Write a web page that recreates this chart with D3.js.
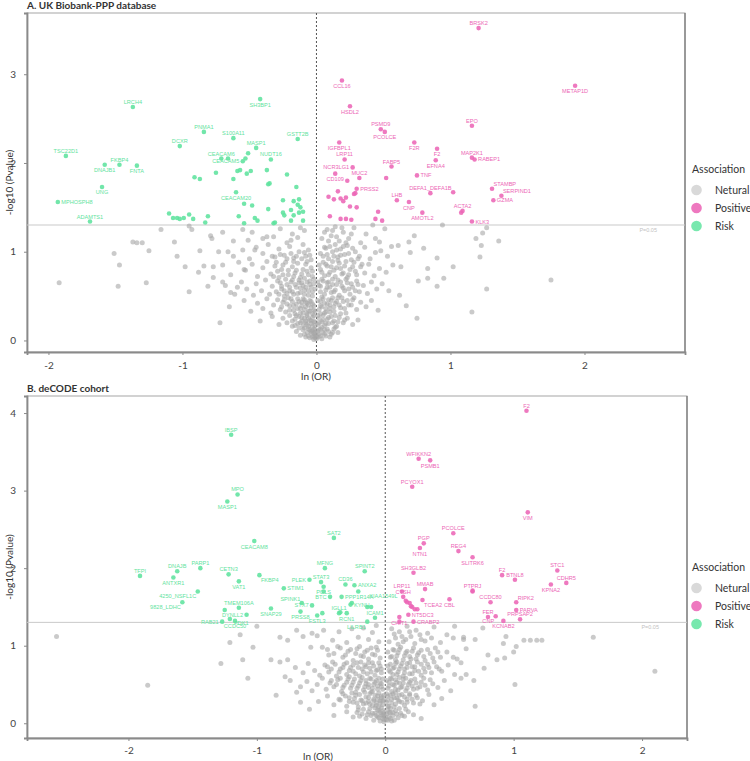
<!DOCTYPE html>
<html>
<head>
<meta charset="utf-8">
<script src="https://cdn.jsdelivr.net/npm/d3@7"></script>
<style>
  body { margin: 0; background: #fff; }
  svg { display: block; font-family: Lato, "Open Sans", sans-serif; }
</style>
</head>
<body>
<div id="chart"></div>
<script>
// volcano plots: ln(OR) vs -log10(P), two cohorts

const lnORTicks = [-2, -1, 0, 1, 2];
const pTicksA = [0, 1, 2, 3];
const pTicksB = [0, 1, 2, 3, 4];
const pThreshold = -Math.log10(0.05);
const legendItems = ['Netural', 'Positive', 'Risk'];

// ---- panel A: UK Biobank-PPP ----
const riskLabelledA = [
  ['LRCH4', -1.37, 2.63], ['SH3BP1', -0.42, 2.72], ['PNMA1', -0.84, 2.35], ['S100A11', -0.62, 2.28],
  ['DCXR', -1.02, 2.19], ['GSTT2B', -0.14, 2.27], ['MASP1', -0.45, 2.17], ['TSC22D1', -1.87, 2.08],
  ['CEACAM6', -0.71, 2.05], ['CEACAM5', -0.55, 2.02], ['NUDT16', -0.34, 2.04], ['FKBP4', -1.47, 1.98],
  ['DNAJB1', -1.58, 1.98], ['FNTA', -1.34, 1.97], ['UNG', -1.60, 1.73], ['MPHOSPH8', -1.93, 1.56],
  ['ADAMTS1', -1.69, 1.34], ['CEACAM20', -0.60, 1.67]
];
const riskOtherA = [
  [-0.66, 2.05], [-0.51, 2.11], [-0.53, 2.05], [-0.91, 1.84], [-0.87, 1.82], [-0.75, 1.89], [-0.62, 1.82],
  [-0.59, 1.91], [-0.57, 1.92], [-0.52, 1.88], [-0.49, 1.91], [-0.37, 1.92], [-0.36, 1.76], [-0.35, 1.77],
  [-0.22, 1.87], [-0.15, 1.73], [-0.54, 1.54], [-0.48, 1.52], [-0.36, 1.48], [-0.25, 1.58], [-0.17, 1.57],
  [-0.13, 1.59], [-0.14, 1.53], [-0.25, 1.44], [-0.24, 1.41], [-0.19, 1.47], [-0.17, 1.41], [-0.13, 1.44],
  [-0.10, 1.45], [-0.10, 1.35], [-0.19, 1.35], [-0.32, 1.32], [-0.31, 1.33], [-0.46, 1.38], [-0.44, 1.35],
  [-0.54, 1.32], [-0.58, 1.40], [-0.83, 1.33], [-0.81, 1.40], [-0.95, 1.42], [-0.92, 1.37], [-1.10, 1.43],
  [-1.07, 1.38], [-1.04, 1.38], [-1.02, 1.37], [-0.99, 1.38], [-0.12, 1.50]
];
const posLabelledA = [
  ['BRSK2', 1.21, 3.52], ['CCL16', 0.19, 2.93], ['METAP1D', 1.93, 2.87], ['HSDL2', 0.25, 2.64],
  ['EPO', 1.16, 2.42], ['PSMD9', 0.48, 2.38], ['PCOLCE', 0.51, 2.35], ['F2R', 0.73, 2.23],
  ['F2', 0.90, 2.16], ['IGFBPL1', 0.17, 2.23], ['LRP11', 0.21, 2.04], ['MAP2K1', 1.16, 2.06],
  ['RABEP1', 1.18, 2.04], ['EFNA4', 0.89, 2.03], ['FABP5', 0.56, 1.96], ['NCR3LG1', 0.27, 1.95],
  ['MUC2', 0.32, 1.83], ['TNF', 0.75, 1.86], ['CD109', 0.14, 1.88], ['PRSS2', 0.30, 1.71],
  ['DEFA1_DEFA1B', 0.85, 1.66], ['STAMBP', 1.31, 1.71], ['SERPIND1', 1.38, 1.63], ['GZMA', 1.32, 1.58],
  ['LHB', 0.60, 1.58], ['CNP', 0.69, 1.56], ['ACTA2', 1.09, 1.46], ['AMOTL2', 0.79, 1.44], ['KLK3', 1.16, 1.34]
];
const posOtherA = [
  [0.23, 1.80], [0.52, 1.83], [0.29, 1.66], [0.28, 1.65], [1.02, 1.67], [1.08, 1.44], [0.09, 1.62],
  [0.13, 1.59], [0.16, 1.68], [0.18, 1.60], [0.20, 1.57], [0.22, 1.61], [0.25, 1.51], [0.30, 1.50],
  [0.10, 1.40], [0.18, 1.37], [0.22, 1.37], [0.26, 1.36], [0.46, 1.45], [0.44, 1.37], [0.49, 1.35]
];
const neutralA = [
  // sparse outer points
  [-1.92, 0.65], [-1.48, 0.61], [-1.27, 0.65], [-1.51, 0.98], [-1.47, 0.85], [-1.37, 1.11], [-1.34, 1.10],
  [-1.30, 1.10], [-1.25, 1.01], [-1.16, 1.25], [-1.06, 1.11], [-1.04, 0.95], [-0.98, 0.83], [-0.95, 1.29],
  [-0.93, 1.25], [-0.87, 1.01], [-0.84, 0.84], [-0.79, 1.18], [-0.78, 1.15], [-0.77, 0.83], [-0.73, 1.00],
  [-0.66, 1.00], [-0.72, 0.20], [-0.81, 0.61], [-0.77, 0.71], [-0.70, 0.66], [-0.64, 0.54], [-0.59, 0.60],
  [-0.54, 0.80], [-0.51, 1.13], [-0.46, 1.02], [-0.37, 1.17], [-0.32, 1.17], [-0.19, 1.13],
  // left cloud
  [-0.55, 1.25], [-0.48, 1.22], [-0.40, 1.15], [-0.27, 1.26], [-0.22, 1.10], [-0.18, 1.20], [-0.14, 1.16],
  [-0.12, 1.27], [-0.09, 1.24], [-0.62, 1.12], [-0.70, 1.22],
  [-0.62, 0.95], [-0.55, 1.02], [-0.50, 0.92], [-0.45, 1.05], [-0.40, 0.98], [-0.36, 1.08], [-0.31, 0.94],
  [-0.28, 1.03], [-0.24, 0.96], [-0.20, 1.06], [-0.17, 0.93], [-0.13, 1.00], [-0.10, 1.08], [-0.08, 0.95],
  [-0.06, 1.02], [-0.04, 0.91],
  [-0.88, 0.77], [-0.70, 0.85], [-0.64, 0.74], [-0.58, 0.88], [-0.53, 0.79], [-0.48, 0.86], [-0.44, 0.72],
  [-0.40, 0.82], [-0.37, 0.89], [-0.34, 0.75], [-0.31, 0.84], [-0.28, 0.71], [-0.26, 0.80], [-0.23, 0.88],
  [-0.21, 0.74], [-0.18, 0.83], [-0.16, 0.76], [-0.14, 0.87], [-0.12, 0.71], [-0.10, 0.80], [-0.08, 0.86],
  [-0.06, 0.74], [-0.04, 0.82], [-0.03, 0.78],
  [-0.95, 0.55], [-0.68, 0.62], [-0.61, 0.52], [-0.56, 0.66], [-0.52, 0.58], [-0.47, 0.51], [-0.45, 0.64],
  [-0.41, 0.56], [-0.38, 0.68], [-0.35, 0.52], [-0.33, 0.61], [-0.30, 0.55], [-0.29, 0.67], [-0.26, 0.58],
  [-0.24, 0.50], [-0.22, 0.63], [-0.20, 0.56], [-0.18, 0.68], [-0.17, 0.52], [-0.15, 0.60], [-0.13, 0.65],
  [-0.12, 0.54], [-0.10, 0.62], [-0.09, 0.57], [-0.07, 0.66], [-0.06, 0.51], [-0.04, 0.60], [-0.03, 0.55],
  [-0.02, 0.64],
  [-0.65, 0.38], [-0.54, 0.45], [-0.49, 0.33], [-0.44, 0.42], [-0.40, 0.36], [-0.37, 0.47], [-0.34, 0.31],
  [-0.32, 0.40], [-0.29, 0.46], [-0.27, 0.35], [-0.25, 0.43], [-0.23, 0.32], [-0.21, 0.48], [-0.20, 0.39],
  [-0.18, 0.44], [-0.17, 0.34], [-0.15, 0.41], [-0.14, 0.47], [-0.12, 0.36], [-0.11, 0.43], [-0.10, 0.31],
  [-0.09, 0.46], [-0.08, 0.38], [-0.07, 0.42], [-0.06, 0.33], [-0.05, 0.45], [-0.04, 0.37], [-0.03, 0.41],
  [-0.02, 0.34],
  [-0.42, 0.22], [-0.33, 0.27], [-0.28, 0.18], [-0.25, 0.25], [-0.22, 0.20], [-0.20, 0.28], [-0.18, 0.16],
  [-0.16, 0.24], [-0.14, 0.19], [-0.13, 0.27], [-0.11, 0.22], [-0.10, 0.17], [-0.09, 0.25], [-0.08, 0.20],
  [-0.07, 0.28], [-0.06, 0.16], [-0.05, 0.23], [-0.04, 0.19], [-0.03, 0.26], [-0.02, 0.21], [-0.01, 0.17],
  [-0.15, 0.10], [-0.12, 0.06], [-0.10, 0.12], [-0.08, 0.04], [-0.07, 0.09], [-0.06, 0.13], [-0.05, 0.03],
  [-0.04, 0.08], [-0.03, 0.11], [-0.02, 0.05], [-0.02, 0.01], [-0.01, 0.07], [-0.01, 0.12], [0.00, 0.02],
  // right cloud
  [1.75, 0.68], [1.27, 0.58], [1.16, 0.32], [0.75, 0.25], [1.36, 1.12], [1.24, 1.21], [1.27, 1.27],
  [1.19, 1.15], [1.23, 1.07], [1.22, 0.94], [1.02, 0.83], [0.94, 1.30], [0.90, 0.93], [0.95, 0.70],
  [0.90, 0.61], [0.83, 0.81], [0.83, 0.70], [0.80, 1.04], [0.73, 1.18], [0.69, 1.11], [0.61, 1.07],
  [0.56, 1.06], [0.51, 1.26], [0.42, 1.30], [0.44, 1.15], [0.47, 1.11], [0.48, 1.01], [0.70, 0.99],
  [0.63, 0.83], [0.76, 0.67], [0.67, 0.39], [0.62, 0.51],
  [0.08, 1.25], [0.11, 1.18], [0.14, 1.28], [0.17, 1.12], [0.20, 1.22], [0.24, 1.15], [0.28, 1.27],
  [0.33, 1.10], [0.37, 1.20],
  [0.05, 0.95], [0.07, 1.04], [0.09, 0.92], [0.12, 1.00], [0.14, 1.08], [0.16, 0.94], [0.18, 1.03],
  [0.21, 0.97], [0.23, 1.07], [0.26, 0.91], [0.29, 1.00], [0.32, 0.95], [0.36, 1.05], [0.40, 0.92],
  [0.44, 0.99], [0.53, 0.95],
  [0.03, 0.80], [0.05, 0.88], [0.06, 0.73], [0.08, 0.84], [0.10, 0.77], [0.12, 0.89], [0.14, 0.72],
  [0.15, 0.82], [0.17, 0.87], [0.19, 0.75], [0.21, 0.84], [0.23, 0.71], [0.25, 0.80], [0.28, 0.88],
  [0.30, 0.74], [0.33, 0.83], [0.36, 0.76], [0.39, 0.86], [0.43, 0.73], [0.47, 0.81], [0.52, 0.77],
  [0.57, 0.85],
  [0.02, 0.62], [0.03, 0.55], [0.05, 0.67], [0.06, 0.52], [0.08, 0.60], [0.09, 0.66], [0.11, 0.54],
  [0.12, 0.63], [0.14, 0.57], [0.16, 0.68], [0.17, 0.51], [0.19, 0.61], [0.21, 0.56], [0.23, 0.65],
  [0.25, 0.52], [0.27, 0.60], [0.30, 0.67], [0.32, 0.55], [0.35, 0.62], [0.38, 0.53], [0.41, 0.66],
  [0.45, 0.58], [0.49, 0.64], [0.54, 0.56],
  [0.02, 0.35], [0.03, 0.44], [0.04, 0.38], [0.05, 0.47], [0.07, 0.32], [0.08, 0.41], [0.10, 0.36],
  [0.11, 0.45], [0.13, 0.33], [0.14, 0.42], [0.16, 0.48], [0.18, 0.37], [0.20, 0.44], [0.22, 0.31],
  [0.24, 0.40], [0.27, 0.46], [0.30, 0.35], [0.33, 0.43], [0.37, 0.38], [0.41, 0.45], [0.46, 0.34],
  [0.01, 0.18], [0.02, 0.25], [0.04, 0.21], [0.05, 0.28], [0.06, 0.17], [0.08, 0.24], [0.09, 0.19],
  [0.11, 0.27], [0.13, 0.22], [0.15, 0.16], [0.17, 0.26], [0.20, 0.20], [0.23, 0.25], [0.27, 0.18],
  [0.31, 0.23],
  [0.01, 0.04], [0.01, 0.10], [0.02, 0.07], [0.03, 0.13], [0.04, 0.02], [0.05, 0.09], [0.06, 0.12],
  [0.07, 0.05], [0.09, 0.10], [0.11, 0.07], [0.13, 0.13], [0.16, 0.09]
];
// dense core around the origin
const neutralCoreA = [
  [-0.33, 0.95], [-0.30, 0.88], [-0.27, 0.97], [-0.25, 0.85], [-0.22, 0.92], [-0.19, 0.98], [-0.17, 0.89],
  [-0.15, 0.95], [-0.11, 0.92], [-0.09, 0.99], [-0.07, 0.89], [-0.05, 0.96],
  [-0.32, 0.72], [-0.29, 0.78], [-0.27, 0.65], [-0.25, 0.74], [-0.23, 0.69], [-0.21, 0.79], [-0.19, 0.66],
  [-0.17, 0.72], [-0.15, 0.79], [-0.13, 0.68], [-0.11, 0.75], [-0.09, 0.70], [-0.07, 0.78], [-0.05, 0.67],
  [-0.03, 0.72], [-0.02, 0.69],
  [-0.28, 0.52], [-0.26, 0.61], [-0.24, 0.56], [-0.22, 0.53], [-0.20, 0.60], [-0.18, 0.55], [-0.16, 0.63],
  [-0.14, 0.53], [-0.12, 0.59], [-0.11, 0.65], [-0.09, 0.52], [-0.08, 0.60], [-0.06, 0.56], [-0.05, 0.63],
  [-0.03, 0.50], [-0.01, 0.58],
  [-0.26, 0.38], [-0.24, 0.46], [-0.22, 0.41], [-0.20, 0.34], [-0.19, 0.47], [-0.17, 0.39], [-0.16, 0.30],
  [-0.14, 0.36], [-0.13, 0.44], [-0.12, 0.31], [-0.11, 0.39], [-0.10, 0.47], [-0.09, 0.35], [-0.08, 0.43],
  [-0.07, 0.30], [-0.06, 0.40], [-0.05, 0.33], [-0.04, 0.44], [-0.03, 0.30], [-0.02, 0.39], [-0.01, 0.33],
  [-0.18, 0.22], [-0.16, 0.17], [-0.15, 0.28], [-0.13, 0.14], [-0.12, 0.20], [-0.11, 0.26], [-0.09, 0.14],
  [-0.08, 0.22], [-0.07, 0.18], [-0.06, 0.25], [-0.05, 0.12], [-0.04, 0.22], [-0.03, 0.16], [-0.02, 0.28],
  [-0.02, 0.13], [-0.01, 0.21], [-0.01, 0.09],
  [-0.09, 0.07], [-0.06, 0.05], [-0.04, 0.10], [-0.03, 0.04], [-0.02, 0.08], [-0.01, 0.03], [0.00, 0.05],
  [0.04, 1.15], [0.06, 1.22], [0.09, 1.12], [0.12, 1.24], [0.15, 1.17], [0.19, 1.27], [0.22, 1.10],
  [0.26, 1.20],
  [0.03, 0.98], [0.06, 1.05], [0.08, 0.97], [0.10, 1.06], [0.13, 0.95], [0.15, 1.02], [0.18, 0.96],
  [0.20, 1.06], [0.24, 0.98], [0.27, 1.04], [0.31, 0.92],
  [0.02, 0.85], [0.04, 0.77], [0.07, 0.86], [0.09, 0.74], [0.11, 0.83], [0.13, 0.79], [0.16, 0.90],
  [0.18, 0.81], [0.20, 0.76], [0.22, 0.89], [0.24, 0.74], [0.27, 0.83], [0.29, 0.78], [0.34, 0.86],
  [0.01, 0.66], [0.03, 0.61], [0.04, 0.69], [0.07, 0.57], [0.08, 0.65], [0.10, 0.60], [0.12, 0.69],
  [0.13, 0.55], [0.15, 0.63], [0.18, 0.66], [0.20, 0.59], [0.22, 0.69], [0.24, 0.58], [0.26, 0.64],
  [0.29, 0.56], [0.31, 0.63],
  [0.01, 0.45], [0.03, 0.39], [0.04, 0.49], [0.06, 0.42], [0.07, 0.36], [0.09, 0.46], [0.10, 0.40],
  [0.12, 0.48], [0.13, 0.38], [0.15, 0.44], [0.17, 0.40], [0.19, 0.48], [0.21, 0.36], [0.23, 0.45],
  [0.26, 0.40], [0.28, 0.48],
  [0.01, 0.28], [0.02, 0.20], [0.03, 0.30], [0.05, 0.23], [0.06, 0.31], [0.07, 0.19], [0.09, 0.26],
  [0.10, 0.32], [0.12, 0.20], [0.14, 0.28], [0.16, 0.21], [0.18, 0.30], [0.21, 0.23],
  [0.02, 0.12], [0.03, 0.05], [0.04, 0.15], [0.06, 0.07], [0.08, 0.13], [0.10, 0.04], [0.12, 0.09],
  [0.14, 0.15]
];

// ---- panel B: deCODE ----
const riskLabelledB = [
  ['IBSP', -1.20, 3.72], ['MPO', -1.15, 2.95], ['MASP1', -1.23, 2.86], ['SAT2', -0.40, 2.39],
  ['CEACAM8', -1.02, 2.35], ['TFPI', -1.91, 1.90], ['DNAJB', -1.62, 1.96], ['PARP1', -1.44, 2.00],
  ['CETN3', -1.22, 1.92], ['ANTXR1', -1.65, 1.88], ['FKBP4', -0.98, 1.91], ['VAT1', -1.14, 1.83],
  ['MFNG', -0.47, 2.00], ['SPINT2', -0.16, 1.96], ['PLEK', -0.59, 1.85], ['STAT3', -0.50, 1.82],
  ['CD36', -0.31, 1.79], ['ANXA2', -0.24, 1.78], ['STIM1', -0.79, 1.74], ['PGLS', -0.48, 1.76],
  ['4250_NSFL1C', -1.46, 1.70], ['PPP1R14A', -0.34, 1.63], ['KIAA1549L', -0.21, 1.70], ['KYNU', -0.27, 1.53],
  ['BTC', -0.43, 1.63], ['SPINK1', -0.65, 1.55], ['9828_LDHC', -1.58, 1.56], ['TMEM106A', -1.14, 1.49],
  ['STX7', -0.57, 1.52], ['SNAP29', -0.89, 1.48], ['IGLL1', -0.36, 1.42], ['DYNLL2', -1.08, 1.40],
  ['PRSS8', -0.66, 1.44], ['FSTL3', -0.53, 1.39], ['ICAM1', -0.08, 1.36], ['RCN1', -0.30, 1.42],
  ['LILRB1', -0.14, 1.31], ['PDK1', -1.21, 1.345], ['RAB21', -1.27, 1.31], ['CCDC50', -1.17, 1.32]
];
const riskOtherB = [
  [-1.25, 1.46], [-0.49, 1.42], [-0.14, 1.50], [-0.11, 1.50], [-0.26, 1.55], [-0.35, 1.43], [-0.48, 1.70]
];
const posLabelledB = [
  ['F2', 1.10, 4.03], ['WFIKKN2', 0.26, 3.41], ['PSMB1', 0.35, 3.39], ['PCYOX1', 0.21, 3.05],
  ['VIM', 1.11, 2.72], ['PCOLCE', 0.53, 2.45], ['PGP', 0.30, 2.32], ['NTN1', 0.27, 2.26],
  ['REG4', 0.57, 2.22], ['SLITRK6', 0.68, 2.14], ['SH3GLB2', 0.22, 1.94], ['STC1', 1.34, 1.97],
  ['F2 ', 0.91, 1.91], ['BTNL8', 1.01, 1.85], ['CDHR5', 1.41, 1.81], ['KPNA2', 1.29, 1.79],
  ['LRP11', 0.13, 1.70], ['MMAB', 0.31, 1.73], ['PTPRJ', 0.68, 1.70], ['CTSH', 0.14, 1.63],
  ['CBL', 0.50, 1.60], ['TCEA2', 0.29, 1.59], ['CCDC80', 0.82, 1.56], ['RIPK2', 1.02, 1.56],
  ['PARVA', 1.02, 1.46], ['FER', 0.80, 1.37], ['PRPSAP2', 1.05, 1.34], ['CNP', 0.86, 1.38],
  ['KCNAB2', 0.92, 1.32], ['NT5DC3', 0.18, 1.40], ['CRABP2', 0.22, 1.31], ['CHIT1', 0.11, 1.37]
];
const posOtherB = [
  [0.16, 1.58], [0.17, 1.56], [0.19, 1.55], [0.20, 1.51], [0.21, 1.50], [0.23, 1.47], [0.25, 1.47],
  [0.11, 1.31], [0.68, 1.71]
];
const neutralB = [
  [-2.56, 1.12], [-1.85, 0.49], [-1.28, 0.77], [-1.21, 1.04], [-1.13, 1.14], [-1.11, 0.82], [-1.07, 0.58],
  [-1.03, 0.98], [-1.00, 1.25], [-0.85, 0.36], [-0.89, 0.82], [-0.82, 0.79], [-0.76, 0.82], [-0.78, 0.60],
  [-0.74, 0.55], [-0.69, 0.40], [-0.66, 0.27], [-0.59, 0.18], [-0.40, 0.10],
  [-0.82, 1.11], [-0.76, 1.07], [-0.69, 1.20], [-0.64, 1.12], [-0.57, 1.16], [-0.53, 1.13], [-0.48, 1.20],
  [-0.41, 1.07], [-0.36, 1.18], [-0.30, 1.04], [-0.26, 1.22], [-0.21, 1.11], [-0.17, 1.23], [-0.13, 1.08],
  [-0.10, 1.17], [-0.07, 1.26], [-0.05, 1.05],
  [-0.58, 0.98], [-0.49, 0.98], [-0.44, 0.88], [-0.37, 0.99], [-0.33, 0.85], [-0.29, 0.93], [-0.25, 0.81],
  [-0.22, 0.96], [-0.19, 0.87], [-0.16, 0.92], [-0.13, 0.83], [-0.11, 0.97], [-0.08, 0.88], [-0.06, 0.94],
  [-0.04, 0.84],
  [-0.70, 0.72], [-0.64, 0.65], [-0.60, 0.77], [-0.55, 0.68], [-0.51, 0.62], [-0.47, 0.75], [-0.44, 0.66],
  [-0.41, 0.79], [-0.38, 0.61], [-0.35, 0.70], [-0.32, 0.76], [-0.30, 0.63], [-0.27, 0.72], [-0.25, 0.67],
  [-0.22, 0.78], [-0.20, 0.61], [-0.18, 0.70], [-0.16, 0.75], [-0.14, 0.64], [-0.12, 0.71], [-0.10, 0.78],
  [-0.08, 0.62], [-0.06, 0.69], [-0.04, 0.74], [-0.03, 0.65],
  [-0.66, 0.47], [-0.61, 0.54], [-0.57, 0.42], [-0.53, 0.50], [-0.49, 0.58], [-0.46, 0.44], [-0.43, 0.52],
  [-0.40, 0.47], [-0.37, 0.56], [-0.34, 0.41], [-0.32, 0.49], [-0.29, 0.57], [-0.27, 0.45], [-0.25, 0.53],
  [-0.23, 0.40], [-0.21, 0.48], [-0.19, 0.55], [-0.17, 0.43], [-0.15, 0.51], [-0.13, 0.46], [-0.12, 0.58],
  [-0.10, 0.41], [-0.09, 0.50], [-0.07, 0.55], [-0.06, 0.44], [-0.04, 0.52], [-0.03, 0.47], [-0.02, 0.57],
  [-0.52, 0.28], [-0.45, 0.35], [-0.40, 0.24], [-0.36, 0.31], [-0.33, 0.38], [-0.30, 0.22], [-0.28, 0.33],
  [-0.25, 0.27], [-0.23, 0.36], [-0.21, 0.21], [-0.19, 0.30], [-0.17, 0.25], [-0.15, 0.34], [-0.13, 0.28],
  [-0.12, 0.38], [-0.10, 0.23], [-0.09, 0.31], [-0.07, 0.26], [-0.06, 0.35], [-0.05, 0.21], [-0.04, 0.29],
  [-0.03, 0.33], [-0.02, 0.24], [-0.01, 0.30],
  [-0.30, 0.15], [-0.25, 0.08], [-0.21, 0.17], [-0.18, 0.12], [-0.15, 0.06], [-0.13, 0.15], [-0.11, 0.10],
  [-0.09, 0.04], [-0.08, 0.13], [-0.06, 0.08], [-0.05, 0.16], [-0.04, 0.03], [-0.03, 0.11], [-0.02, 0.06],
  [-0.01, 0.14], [-0.01, 0.02], [0.00, 0.08],
  [2.10, 0.67], [1.62, 1.11], [1.08, 1.07], [1.13, 1.07], [1.18, 1.07], [1.22, 1.07], [1.02, 0.99],
  [0.92, 1.03], [0.76, 1.23], [0.54, 1.25], [0.61, 1.11], [0.53, 1.10], [0.61, 1.08], [0.70, 1.08],
  [0.70, 0.22], [1.01, 0.50], [0.80, 0.88], [0.87, 0.82], [0.93, 0.84], [1.00, 0.92], [0.94, 1.12],
  [0.77, 0.71], [0.69, 0.55], [0.63, 0.63], [0.59, 0.58], [0.53, 0.85],
  [0.05, 1.22], [0.08, 1.10], [0.11, 1.18], [0.14, 1.05], [0.17, 1.25], [0.20, 1.12], [0.24, 1.20],
  [0.28, 1.08], [0.33, 1.16], [0.38, 1.24], [0.43, 1.04], [0.48, 1.14],
  [0.04, 0.85], [0.06, 0.95], [0.08, 0.82], [0.10, 0.91], [0.12, 0.98], [0.15, 0.87], [0.17, 0.93],
  [0.20, 0.83], [0.22, 0.97], [0.25, 0.88], [0.28, 0.94], [0.31, 0.81], [0.35, 0.90], [0.39, 0.97],
  [0.43, 0.85], [0.48, 0.92], [0.56, 0.83], [0.63, 0.96],
  [0.03, 0.68], [0.04, 0.76], [0.06, 0.63], [0.07, 0.72], [0.09, 0.79], [0.10, 0.66], [0.12, 0.74],
  [0.14, 0.61], [0.15, 0.70], [0.17, 0.77], [0.19, 0.64], [0.21, 0.73], [0.23, 0.68], [0.25, 0.79],
  [0.28, 0.62], [0.30, 0.71], [0.33, 0.76], [0.36, 0.65], [0.40, 0.73], [0.44, 0.67], [0.49, 0.75],
  [0.54, 0.63], [0.59, 0.78],
  [0.02, 0.45], [0.03, 0.53], [0.04, 0.58], [0.05, 0.41], [0.07, 0.49], [0.08, 0.56], [0.10, 0.43],
  [0.11, 0.52], [0.13, 0.47], [0.14, 0.57], [0.16, 0.42], [0.18, 0.50], [0.20, 0.55], [0.22, 0.44],
  [0.24, 0.52], [0.27, 0.47], [0.30, 0.58], [0.33, 0.43], [0.37, 0.51], [0.41, 0.46], [0.46, 0.55],
  [0.51, 0.42],
  [0.01, 0.27], [0.02, 0.35], [0.03, 0.22], [0.05, 0.31], [0.06, 0.38], [0.08, 0.25], [0.09, 0.33],
  [0.11, 0.28], [0.13, 0.37], [0.15, 0.23], [0.17, 0.31], [0.19, 0.36], [0.22, 0.26], [0.25, 0.33],
  [0.29, 0.29], [0.34, 0.37], [0.38, 0.24], [0.44, 0.32],
  [0.01, 0.05], [0.01, 0.12], [0.02, 0.17], [0.03, 0.08], [0.04, 0.14], [0.05, 0.03], [0.06, 0.10],
  [0.08, 0.16], [0.10, 0.07], [0.12, 0.13], [0.15, 0.09], [0.18, 0.15], [0.22, 0.11], [0.28, 0.06]
];
const neutralCoreB = [
  [-0.45, 0.95], [-0.40, 0.90], [-0.35, 0.97], [-0.31, 0.88], [-0.27, 0.95], [-0.23, 0.90], [-0.20, 0.99],
  [-0.17, 0.86], [-0.14, 0.94], [-0.10, 0.89], [-0.07, 0.98],
  [-0.45, 0.73], [-0.42, 0.70], [-0.39, 0.76], [-0.36, 0.66], [-0.33, 0.72], [-0.30, 0.78], [-0.28, 0.68],
  [-0.25, 0.75], [-0.23, 0.64], [-0.21, 0.72], [-0.19, 0.79], [-0.17, 0.66], [-0.15, 0.73], [-0.13, 0.78],
  [-0.11, 0.66], [-0.09, 0.74], [-0.07, 0.68], [-0.05, 0.78], [-0.03, 0.70],
  [-0.42, 0.55], [-0.38, 0.50], [-0.35, 0.58], [-0.33, 0.46], [-0.30, 0.53], [-0.28, 0.60], [-0.26, 0.49],
  [-0.24, 0.57], [-0.22, 0.45], [-0.20, 0.52], [-0.18, 0.59], [-0.16, 0.47], [-0.15, 0.55], [-0.13, 0.50],
  [-0.11, 0.57], [-0.10, 0.45], [-0.08, 0.53], [-0.06, 0.48], [-0.05, 0.58], [-0.03, 0.51], [-0.02, 0.44],
  [-0.35, 0.30], [-0.31, 0.35], [-0.28, 0.28], [-0.26, 0.39], [-0.24, 0.32], [-0.22, 0.26], [-0.20, 0.37],
  [-0.18, 0.29], [-0.16, 0.40], [-0.15, 0.26], [-0.13, 0.33], [-0.12, 0.25], [-0.11, 0.40], [-0.09, 0.29],
  [-0.08, 0.36], [-0.07, 0.23], [-0.06, 0.31], [-0.05, 0.39], [-0.04, 0.26], [-0.03, 0.35], [-0.02, 0.29],
  [-0.01, 0.36],
  [-0.22, 0.14], [-0.20, 0.09], [-0.17, 0.18], [-0.14, 0.11], [-0.12, 0.19], [-0.10, 0.13], [-0.08, 0.20],
  [-0.07, 0.10], [-0.06, 0.17], [-0.05, 0.07], [-0.04, 0.14], [-0.03, 0.20], [-0.02, 0.10], [-0.02, 0.16],
  [-0.01, 0.05], [-0.01, 0.11],
  [0.03, 1.05], [0.07, 1.15], [0.10, 1.02], [0.13, 1.12], [0.16, 1.08], [0.19, 1.18], [0.23, 1.03],
  [0.27, 1.14], [0.31, 1.06], [0.36, 1.10],
  [0.02, 0.92], [0.05, 0.86], [0.07, 0.94], [0.09, 0.87], [0.11, 0.95], [0.14, 0.82], [0.16, 0.91],
  [0.19, 0.86], [0.21, 0.93], [0.24, 0.83], [0.26, 0.91], [0.30, 0.86], [0.33, 0.95], [0.37, 0.84],
  [0.41, 0.92],
  [0.02, 0.74], [0.04, 0.66], [0.06, 0.71], [0.08, 0.77], [0.09, 0.63], [0.11, 0.70], [0.13, 0.77],
  [0.15, 0.65], [0.17, 0.72], [0.19, 0.78], [0.21, 0.64], [0.23, 0.73], [0.26, 0.67], [0.28, 0.76],
  [0.31, 0.66], [0.34, 0.72], [0.38, 0.79], [0.42, 0.70],
  [0.01, 0.55], [0.03, 0.48], [0.05, 0.57], [0.06, 0.50], [0.08, 0.44], [0.09, 0.53], [0.11, 0.59],
  [0.12, 0.46], [0.14, 0.52], [0.16, 0.58], [0.17, 0.45], [0.19, 0.53], [0.21, 0.48], [0.23, 0.57],
  [0.25, 0.45], [0.28, 0.53], [0.31, 0.49], [0.35, 0.56],
  [0.01, 0.38], [0.02, 0.30], [0.04, 0.36], [0.05, 0.26], [0.07, 0.33], [0.08, 0.39], [0.10, 0.30],
  [0.11, 0.36], [0.13, 0.27], [0.15, 0.34], [0.17, 0.27], [0.19, 0.38], [0.21, 0.31], [0.24, 0.36],
  [0.27, 0.25],
  [0.02, 0.22], [0.03, 0.14], [0.04, 0.19], [0.06, 0.14], [0.07, 0.21], [0.09, 0.12], [0.11, 0.19],
  [0.13, 0.10], [0.16, 0.18], [0.02, 0.04], [0.04, 0.06], [0.07, 0.04]
];

// where each gene label sits relative to its dot
const placeA = {
  LRCH4: 't', SH3BP1: 'b', PNMA1: 't', S100A11: 't', DCXR: 't', GSTT2B: 't', MASP1: 't', TSC22D1: 't',
  CEACAM6: 't', CEACAM5: 'l', NUDT16: 't', FKBP4: 't', DNAJB1: 'b', FNTA: 'b', UNG: 'b', MPHOSPH8: 'r',
  ADAMTS1: 't', CEACAM20: 'b',
  BRSK2: 't', CCL16: 'b', METAP1D: 'b', HSDL2: 'b', EPO: 't', PSMD9: 't', PCOLCE: 'b', F2R: 'b', F2: 'b',
  IGFBPL1: 'b', LRP11: 't', MAP2K1: 't', RABEP1: 'r', EFNA4: 'b', FABP5: 't', NCR3LG1: 'l', MUC2: 't',
  TNF: 'r', CD109: 'b', PRSS2: 'r', DEFA1_DEFA1B: 't', STAMBP: 'tr', SERPIND1: 'tr', GZMA: 'r', LHB: 't',
  CNP: 'b', ACTA2: 't', AMOTL2: 'b', KLK3: 'r'
};
const placeB = {
  IBSP: 't', MPO: 't', MASP1: 'b', SAT2: 't', CEACAM8: 'b', TFPI: 't', DNAJB: 't', PARP1: 't', CETN3: 't',
  ANTXR1: 'b', FKBP4: 'br', VAT1: 'b', MFNG: 't', SPINT2: 't', PLEK: 'l', STAT3: 't', CD36: 't', ANXA2: 'r',
  STIM1: 'r', PGLS: 'b', '4250_NSFL1C': 'bl', PPP1R14A: 'r', KIAA1549L: 'rr', KYNU: 'r', BTC: 'l',
  SPINK1: 'tl', '9828_LDHC': 'bl', TMEM106A: 't', STX7: 'l', SNAP29: 'b', IGLL1: 't', DYNLL2: 'l', PRSS8: 'b',
  FSTL3: 'b', ICAM1: 't', RCN1: 'b', LILRB1: 'bl', PDK1: 'rb', RAB21: 'l', CCDC50: 'b',
  F2: 't', WFIKKN2: 't', PSMB1: 'b', PCYOX1: 't', VIM: 'b', PCOLCE: 't', PGP: 't', NTN1: 'b', REG4: 't',
  SLITRK6: 'b', SH3GLB2: 't', STC1: 't', 'F2 ': 't', BTNL8: 't', CDHR5: 't', KPNA2: 'b', LRP11: 't', MMAB: 't',
  PTPRJ: 't', CTSH: 't', CBL: 'b', TCEA2: 'br', CCDC80: 't', RIPK2: 'tr', PARVA: 'r', FER: 't', PRPSAP2: 't',
  CNP: 'bl', KCNAB2: 'b', NT5DC3: 'r', CRABP2: 'r', CHIT1: 'b'
};

const W = 750, H = 761;
const colNeutral = '#a6a6a6', colPos = '#ec67b6', colRisk = '#5fe39e';
const legendColors = ['#d9d9d9', '#ee78bf', '#78e8ae'];
const labelFont = '"Liberation Sans", Arial, sans-serif';

const svg = d3.select('#chart').append('svg').attr('width', W).attr('height', H);

function offsetFor(p) {
  switch (p) {
    case 't': return [0, -3, 'middle'];
    case 'b': return [0, 7.5, 'middle'];
    case 'l': return [-3.5, 2, 'end'];
    case 'r': return [3.5, 2, 'start'];
    case 'rr': return [11, 7, 'start'];
    case 'rb': return [4, 6, 'start'];
    case 'tl': return [-1.5, -2.5, 'end'];
    case 'tr': return [1.5, -2.5, 'start'];
    case 'bl': return [-1.5, 7, 'end'];
    case 'br': return [1.5, 7, 'start'];
  }
  return [0, -3, 'middle'];
}

function drawPanel(o) {
  const g = svg.append('g');
  const x = d3.scaleLinear().domain(o.xDomain).range([o.left, o.right]);
  const y = d3.scaleLinear().domain(o.yDomain).range([o.bottom, o.top]);

  g.append('text').attr('x', o.left).attr('y', o.titleY)
    .attr('font-size', 10).attr('font-weight', 'bold').attr('fill', '#333').text(o.title);

  // frame
  g.append('rect').attr('x', o.left).attr('y', o.top)
    .attr('width', o.right - o.left).attr('height', o.bottom - o.top)
    .attr('fill', 'none').attr('stroke', '#a6a6a6').attr('stroke-width', 1);
  g.append('line').attr('x1', o.right).attr('x2', o.right).attr('y1', o.top).attr('y2', o.bottom)
    .attr('stroke', '#7a7a7a').attr('stroke-width', 1.3);

  // axes
  const xAxis = g.append('g').attr('transform', `translate(0,${o.bottom})`)
    .call(d3.axisBottom(x).tickValues(lnORTicks).tickSize(3).tickFormat(d => String(d)));
  const yAxis = g.append('g').attr('transform', `translate(${o.left},0)`)
    .call(d3.axisLeft(y).tickValues(o.yTicks).tickSize(3).tickFormat(d => String(d)));
  [xAxis, yAxis].forEach(a => {
    a.select('.domain').attr('stroke', '#8a8a8a').attr('stroke-width', 1.8);
    a.selectAll('.tick line').attr('stroke', '#8a8a8a');
    a.selectAll('.tick text').attr('fill', '#444').attr('font-size', 10).attr('font-family', 'Lato, sans-serif');
  });
  xAxis.selectAll('.tick text').attr('y', o.tickGap);
  yAxis.selectAll('.tick text').attr('dx', '-0.5em');

  g.append('text').attr('x', o.xLabelX).attr('y', o.bottom + o.xLabelGap).attr('text-anchor', 'middle')
    .attr('font-size', 10).attr('fill', '#333').text('ln (OR)');
  g.append('text').attr('transform', `translate(13,${(o.top + o.bottom) / 2}) rotate(-90)`)
    .attr('text-anchor', 'middle').attr('font-size', 10).attr('fill', '#333').text('-log10 (Pvalue)');

  // reference lines
  g.append('line').attr('x1', o.left).attr('x2', o.right).attr('y1', y(pThreshold)).attr('y2', y(pThreshold))
    .attr('stroke', '#c9c9c9').attr('stroke-width', 1);
  g.append('text').attr('x', o.right - 28).attr('y', y(pThreshold) + 7).attr('text-anchor', 'end')
    .attr('font-size', 5.5).attr('fill', '#c2c2c2').attr('font-family', labelFont).text('P=0.05');
  g.append('line').attr('x1', x(0)).attr('x2', x(0)).attr('y1', o.top).attr('y2', o.bottom)
    .attr('stroke', '#555').attr('stroke-width', 1).attr('stroke-dasharray', '2,2');

  // dots
  g.append('g').selectAll('circle').data(o.neutral).join('circle')
    .attr('cx', d => x(d[0])).attr('cy', d => y(d[1])).attr('r', 2.5)
    .attr('fill', colNeutral).attr('fill-opacity', 0.6);

  const sig = [
    ...o.riskOther.map(d => ({ x: d[0], y: d[1], c: colRisk })),
    ...o.risk.map(d => ({ name: d[0], x: d[1], y: d[2], c: colRisk })),
    ...o.posOther.map(d => ({ x: d[0], y: d[1], c: colPos })),
    ...o.pos.map(d => ({ name: d[0], x: d[1], y: d[2], c: colPos }))
  ];
  g.append('g').selectAll('circle').data(sig).join('circle')
    .attr('cx', d => x(d.x)).attr('cy', d => y(d.y)).attr('r', 2.3)
    .attr('fill', d => d.c).attr('fill-opacity', 0.88);

  g.append('g').selectAll('text').data(sig.filter(d => d.name)).join('text')
    .each(function (d) {
      const [dx, dy, anchor] = offsetFor(o.place[d.name]);
      d3.select(this).attr('x', x(d.x) + dx).attr('y', y(d.y) + dy).attr('text-anchor', anchor);
    })
    .attr('font-size', 5.6).attr('font-family', labelFont)
    .attr('fill', d => d.c).text(d => d.name.trim());

  // legend
  const lg = g.append('g').attr('transform', `translate(692,${o.legendY})`);
  lg.append('text').attr('x', 0).attr('y', 4).attr('font-size', 10.5).attr('fill', '#333').text('Association');
  legendItems.forEach((t, i) => {
    const yy = 21 + i * 18;
    lg.append('circle').attr('cx', 4.5).attr('cy', yy).attr('r', 5.3).attr('fill', legendColors[i]);
    lg.append('text').attr('x', 23).attr('y', yy + 4).attr('font-size', 10.5).attr('fill', '#333').text(t);
  });
}

drawPanel({
  title: 'A. UK Biobank-PPP database', titleY: 9, left: 27, right: 685, top: 13, bottom: 352,
  xDomain: [-2.16, 2.75], yDomain: [-0.13, 3.69], yTicks: pTicksA, xLabelX: 316, legendY: 169,
  tickGap: 10, xLabelGap: 28,
  neutral: neutralA.concat(neutralCoreA), risk: riskLabelledA, riskOther: riskOtherA,
  pos: posLabelledA, posOther: posOtherA, place: placeA
});
drawPanel({
  title: 'B. deCODE cohort', titleY: 392, left: 27, right: 687, top: 396, bottom: 738,
  xDomain: [-2.79, 2.35], yDomain: [-0.19, 4.22], yTicks: pTicksB, xLabelX: 318, legendY: 567,
  tickGap: 9, xLabelGap: 22,
  neutral: neutralB.concat(neutralCoreB), risk: riskLabelledB, riskOther: riskOtherB,
  pos: posLabelledB, posOther: posOtherB, place: placeB
});
</script>
</body>
</html>
